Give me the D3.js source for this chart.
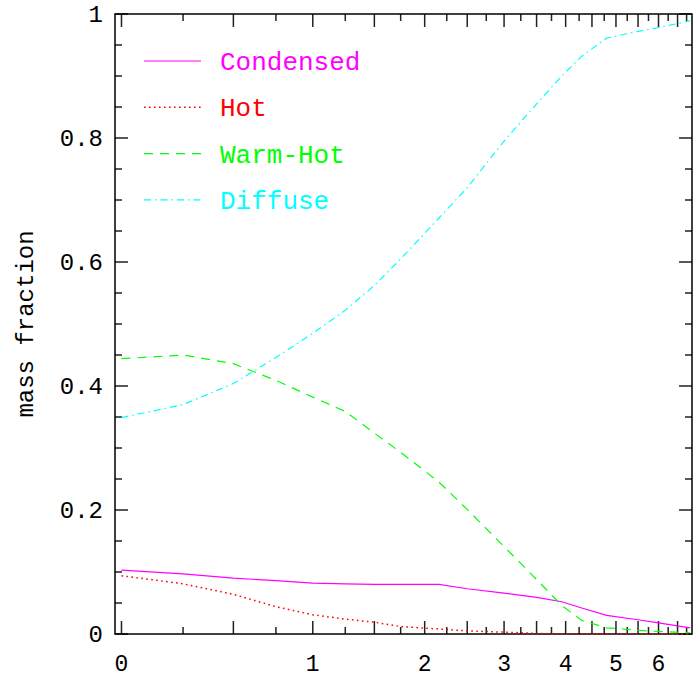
<!DOCTYPE html>
<html>
<head>
<meta charset="utf-8">
<script src="https://d3js.org/d3.v7.min.js"></script>
<style>
  body { margin: 0; background: #fff; }
  text { font-family: "Liberation Mono", "DejaVu Sans Mono", monospace; }
</style>
</head>
<body>
<script>
// redshift samples (x axis is log10(1+z), labelled in z)
var redshift  = [0, 0.25, 0.5, 0.75, 1, 1.25, 1.5, 1.75, 2.16, 2.5, 3, 3.5, 3.93, 4.3, 4.8, 5.5, 6, 6.85];
var condensed = [0.103, 0.097, 0.090, 0.086, 0.082, 0.081, 0.080, 0.080, 0.080, 0.073, 0.066, 0.059, 0.052, 0.042, 0.030, 0.023, 0.018, 0.010];
var hot       = [0.094, 0.081, 0.064, 0.044, 0.031, 0.024, 0.019, 0.012, 0.008, 0.005, 0.003, 0.001, 0.000, 0.000, 0.000, 0.000, 0.000, 0.000];
var warmHot   = [0.444, 0.450, 0.436, 0.409, 0.382, 0.359, 0.324, 0.293, 0.245, 0.201, 0.141, 0.088, 0.046, 0.022, 0.010, 0.006, 0.004, 0.002];
var diffuse   = [0.349, 0.370, 0.404, 0.446, 0.485, 0.522, 0.562, 0.605, 0.671, 0.720, 0.795, 0.855, 0.900, 0.932, 0.961, 0.972, 0.978, 0.989];

var seriesNames = ["Condensed", "Hot", "Warm-Hot", "Diffuse"];
var seriesData = [condensed, hot, warmHot, diffuse];

var xTickLabels = [0, 1, 2, 3, 4, 5, 6];
var yTickLabels = [0, 0.2, 0.4, 0.6, 0.8, 1];

var width = 693, height = 678;
var pL = 115, pR = 692, pT = 14, pB = 634;

var svg = d3.select("body").append("svg")
    .attr("width", width)
    .attr("height", height);

var x = d3.scaleLinear().domain([-0.0102, 0.8978]).range([pL, pR]);
var y = d3.scaleLinear().domain([0, 1]).range([pB, pT]);
function xz(z) { return x(Math.log10(1 + z)); }

var colors = ["#ff00ff", "#ff0000", "#00ff00", "#00ffff"];
var dashes = [null, "1.6,3.4", "9,7", "7,4,1.5,4"];

// ticks: major every 0.5 in z, minor every 0.25
var zMajor = d3.range(0, 6.51, 0.5), zMinor = d3.range(0.25, 6.8, 0.5);
var yMajor = d3.range(0, 1.01, 0.2), yMinor = d3.range(0.05, 1, 0.05).filter(function(v) { return Math.abs(v / 0.2 - Math.round(v / 0.2)) > 0.01; });

var ax = svg.append("g").attr("stroke", "#222").attr("stroke-width", 1.5);

function vticks(vals, len) {
  vals.forEach(function(z) {
    ax.append("line").attr("x1", xz(z)).attr("x2", xz(z)).attr("y1", pB).attr("y2", pB - len);
    ax.append("line").attr("x1", xz(z)).attr("x2", xz(z)).attr("y1", pT).attr("y2", pT + len);
  });
}
function hticks(vals, len) {
  vals.forEach(function(v) {
    ax.append("line").attr("y1", y(v)).attr("y2", y(v)).attr("x1", pL).attr("x2", pL + len);
    ax.append("line").attr("y1", y(v)).attr("y2", y(v)).attr("x1", pR).attr("x2", pR - len);
  });
}
vticks(zMajor, 13); vticks(zMinor, 7);
hticks(yMajor, 13); hticks(yMinor, 7);

ax.append("rect")
    .attr("x", pL).attr("y", pT)
    .attr("width", pR - pL).attr("height", pB - pT)
    .attr("fill", "none").attr("stroke", "#000").attr("stroke-width", 1.5);

svg.selectAll(".xl").data(xTickLabels).enter().append("text")
    .attr("x", function(d) { return xz(d); })
    .attr("y", 671)
    .attr("text-anchor", "middle")
    .attr("font-size", 23)
    .text(function(d) { return d; });

svg.selectAll(".yl").data(yTickLabels).enter().append("text")
    .attr("x", 103)
    .attr("y", function(d) { return y(d); })
    .attr("dy", "0.35em")
    .attr("text-anchor", "end")
    .attr("font-size", 24)
    .text(function(d) { return d; });

svg.append("text")
    .attr("transform", "translate(33,324) rotate(-90)")
    .attr("text-anchor", "middle")
    .attr("font-size", 24)
    .text("mass fraction");

var line = d3.line()
    .x(function(d, i) { return xz(redshift[i]); })
    .y(function(d) { return y(d); });

svg.append("g").selectAll("path").data(seriesData).enter().append("path")
    .attr("d", line)
    .attr("fill", "none")
    .attr("stroke", function(d, i) { return colors[i]; })
    .attr("stroke-width", function(d, i) { return i === 1 ? 1.5 : 1.2; })
    .attr("stroke-dasharray", function(d, i) { return dashes[i]; });

var leg = svg.append("g");
seriesNames.forEach(function(name, i) {
  var ly = 61 + i * 46.3;
  leg.append("line")
      .attr("x1", 144).attr("x2", 201).attr("y1", ly).attr("y2", ly)
      .attr("stroke", colors[i]).attr("stroke-width", i === 1 ? 1.5 : 1.2)
      .attr("stroke-dasharray", dashes[i]);
  leg.append("text")
      .attr("x", 220).attr("y", ly).attr("dy", "0.35em")
      .attr("font-size", 26)
      .attr("fill", colors[i])
      .text(name);
});
</script>
</body>
</html>
